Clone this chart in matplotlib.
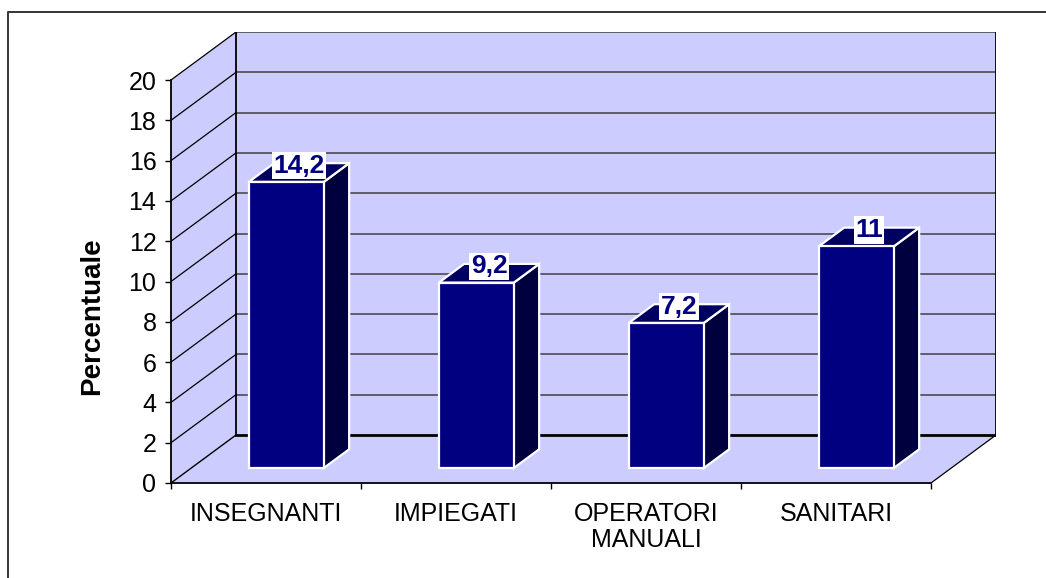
#!/usr/bin/env python3
"""Excel-style 3D column chart: percentuale per categoria professionale."""

import matplotlib

matplotlib.use("Agg")
import matplotlib.pyplot as plt
from matplotlib.lines import Line2D
from matplotlib.patches import Polygon

plt.rcParams["font.family"] = ["Liberation Sans", "DejaVu Sans"]

categories = ["INSEGNANTI", "IMPIEGATI", "OPERATORI\nMANUALI", "SANITARI"]
values = [14.2, 9.2, 7.2, 11]
value_labels = ["14,2", "9,2", "7,2", "11"]
yticks = list(range(0, 21, 2))
ylabel = "Percentuale"

W, H = 1046, 578
X0, X1 = 171, 996          # front-left axis x, back-wall right edge x
Y0, YTOP = 483, 32         # front floor y, back-wall top y
Y20 = 80                   # front-plane y for value 20

WALL = "#CCCCFF"
FRONT = "#000080"
SIDE = "#00003F"
TOP = "#000060"

px_cat = 190.0
px_val = (Y0 - Y20) / 20.0
DX = 65 / px_cat            # depth offset in category units
DY = 48 / px_val            # depth offset in value units
BAR_W = 75 / px_cat
D_FRONT = 0.3125            # bar front position along depth
D_BAR = 0.39                # bar depth fraction


def main() -> None:
    fig = plt.figure(figsize=(W / 100, H / 100), dpi=100)
    ax = fig.add_axes([X0 / W, (H - Y0) / H, (X1 - X0) / W, (Y0 - YTOP) / H])
    ncat = len(categories)
    ymax = yticks[-1]
    ax.set_xlim(0, ncat + DX)
    ax.set_ylim(0, ymax + DY)
    ax.patch.set_visible(False)

    # walls and floor
    ax.add_patch(Polygon([(DX, DY), (ncat + DX, DY), (ncat + DX, ymax + DY), (DX, ymax + DY)],
                         closed=True, facecolor=WALL, edgecolor="none", zorder=0))
    ax.add_patch(Polygon([(0, 0), (0, ymax), (DX, ymax + DY), (DX, DY)],
                         closed=True, facecolor=WALL, edgecolor="none", zorder=0))
    ax.add_patch(Polygon([(0, 0), (ncat, 0), (ncat + DX, DY), (DX, DY)],
                         closed=True, facecolor=WALL, edgecolor="none", zorder=0))

    for v in yticks[1:]:
        ax.plot([DX, ncat + DX], [v + DY, v + DY], color="0.25", lw=1.1, zorder=1)
        ax.plot([0, DX], [v, v + DY], color="black", lw=0.9, zorder=1)
    ax.plot([0, DX], [0, DY], color="black", lw=1.0, zorder=1)
    ax.plot([DX, ncat + DX], [DY, DY], color="black", lw=2.0, zorder=1)
    ax.plot([DX, DX], [DY, ymax + DY], color="black", lw=1.3, zorder=1)
    ax.plot([ncat + DX, ncat + DX], [DY, ymax + DY], color="black", lw=1.3, zorder=1)
    ax.plot([ncat, ncat + DX], [0, DY], color="black", lw=0.9, zorder=1)

    # bars
    for i, (v, lab) in enumerate(zip(values, value_labels)):
        cx = i + 0.5 + D_FRONT * DX
        base = D_FRONT * DY
        xl, xr = cx - BAR_W / 2, cx + BAR_W / 2
        top = base + v
        ddx, ddy = D_BAR * DX, D_BAR * DY
        kw = dict(closed=True, edgecolor="white", lw=1.6, zorder=3, joinstyle="miter")
        ax.add_patch(Polygon([(xr, base), (xr + ddx, base + ddy), (xr + ddx, top + ddy), (xr, top)],
                             facecolor=SIDE, **kw))
        ax.add_patch(Polygon([(xl, top), (xr, top), (xr + ddx, top + ddy), (xl + ddx, top + ddy)],
                             facecolor=TOP, **kw))
        ax.add_patch(Polygon([(xl, base), (xr, base), (xr, top), (xl, top)],
                             facecolor=FRONT, **kw))
        ax.annotate(lab, (cx + ddx / 2, top + ddy / 2), xytext=(0, 7), textcoords="offset pixels",
                    ha="center", va="center", fontsize=19, fontweight="bold", color=FRONT,
                    bbox=dict(boxstyle="square,pad=0.06", facecolor="white", edgecolor="none"),
                    zorder=5)

    # axes
    for s in ("top", "right"):
        ax.spines[s].set_visible(False)
    ax.spines["left"].set_bounds(0, ymax)
    ax.spines["bottom"].set_bounds(0, ncat)
    for s in ("left", "bottom"):
        ax.spines[s].set_linewidth(1.3)
        ax.spines[s].set_zorder(2)
    ax.set_yticks(yticks)
    ax.set_yticklabels([str(t) for t in yticks])
    ax.set_xticks(range(ncat + 1))
    ax.set_xticklabels([""] * (ncat + 1))
    ax.set_xticks([i + 0.5 for i in range(ncat)], minor=True)
    ax.set_xticklabels(categories, minor=True, linespacing=1.1)
    ax.tick_params(axis="y", length=4.5, width=1.0, pad=6, labelsize=18)
    ax.tick_params(axis="x", which="major", length=4.5, width=1.0)
    ax.tick_params(axis="x", which="minor", length=0, pad=14, labelsize=18)

    fig.text(92 / W, 1 - 316 / H, ylabel, rotation=90, ha="center", va="center",
             fontsize=20, fontweight="bold")

    # chart frame (top and left edges visible)
    fig.add_artist(Line2D([7.5 / W, 7.5 / W, 1.0], [0.0, 1 - 12 / H, 1 - 12 / H],
                          transform=fig.transFigure, color="0.2", lw=1.4))

    fig.savefig("out.png", dpi=100)
    plt.close(fig)


if __name__ == "__main__":
    main()
